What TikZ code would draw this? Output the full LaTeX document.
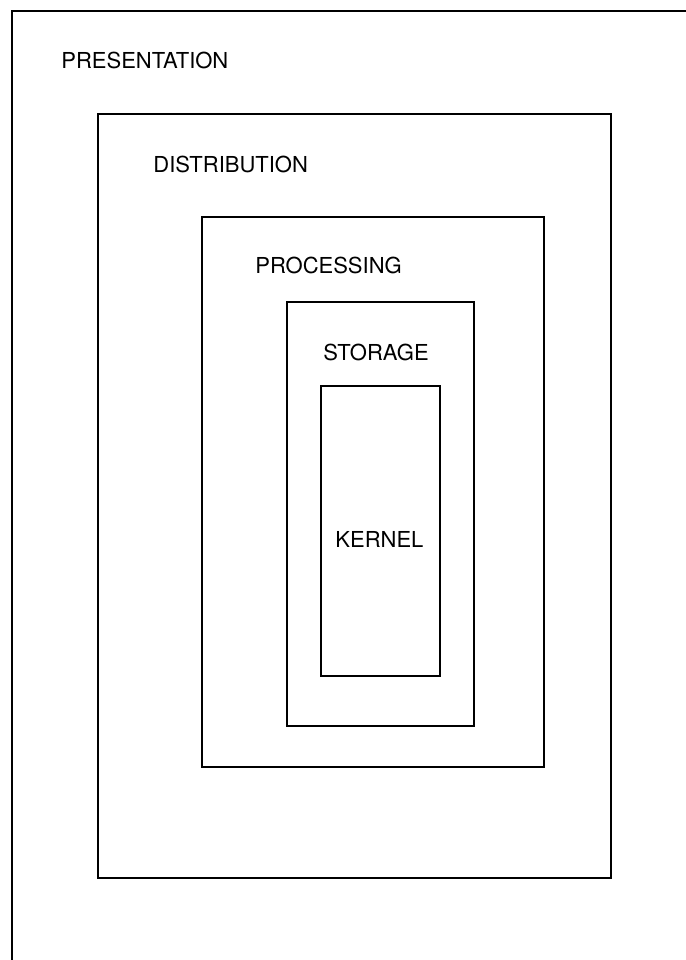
\documentclass[tikz,border=0pt]{standalone}
\usepackage{fontspec}
\setmainfont{TeX Gyre Heros}
\usetikzlibrary{positioning}
\tikzset{
  ly/.style={font=\fontsize{11}{13}\selectfont, text=black},
  lybox/.style={draw=black, line width=1.3pt},
  lylbl/.style={ly, anchor=base west, inner sep=0pt},
}

\begin{document}
\begin{tikzpicture}[x=0.5pt, y=-0.5pt]
  \useasboundingbox (0,0) rectangle (686,960);

  % outer layer, open to the right and below
  \coordinate (outerbl) at (12,960);
  \coordinate (outertl) at (12,11);
  \coordinate (outertr) at (686,11);
  \draw[lybox] (outerbl) -- (outertl) -- (outertr);
  \node[lylbl] (presentation) at (61,68) {PRESENTATION};

  % nested layers
  \draw[lybox] (98,114) rectangle (611,878);
  \node[lylbl] (distribution) at (153,172) {DISTRIBUTION};

  \draw[lybox] (202,217) rectangle (544,767);
  \node[lylbl] (processing) at (255,273) {PROCESSING};

  \draw[lybox] (287,302) rectangle (474,726);
  \node[lylbl] (storage) at (323,360) {STORAGE};

  \draw[lybox] (321,386) rectangle (440,676);
  \node[lylbl] (kernel) at (335,547) {KERNEL};
\end{tikzpicture}
\end{document}
